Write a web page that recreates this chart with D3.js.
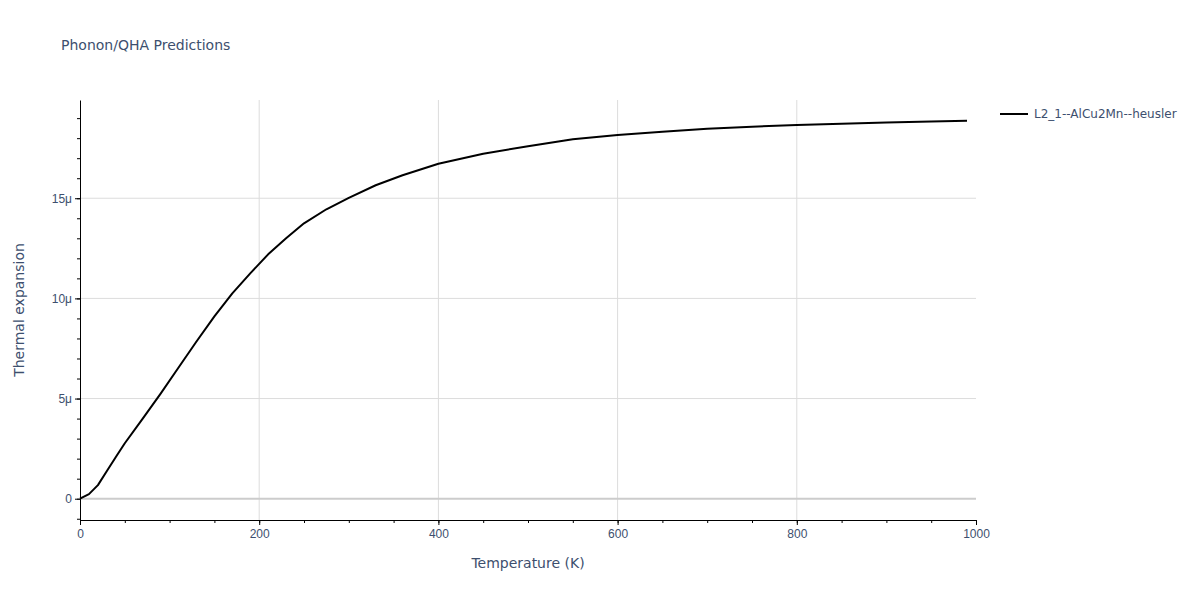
<!DOCTYPE html>
<html lang="en">
<head>
    <meta charset="UTF-8">
    <title>Phonon/QHA Predictions</title>
    <style>
        html, body { margin: 0; padding: 0; background: #fff; }
        svg { display: block; font-family: "DejaVu Sans", Verdana, sans-serif; }
        .grid line { stroke: #dcdcdc; stroke-width: 1px; }
        .tick text { fill: #3d4f6e; font-size: 12px; }
        .axis path, .axis line { stroke: #000; }
        .title, .axis-title, .legend text { fill: #3d4f6e; }
    </style>
</head>
<body>
<svg width="1200" height="600"></svg>

<script src="https://d3js.org/d3.v7.min.js"></script>
<script>
    // Thermal expansion (y values in units of 1e-6)
    const seriesName = "L2_1--AlCu2Mn--heusler";
    const temperature = [0, 10, 20, 30, 40, 50, 70, 90, 110, 130, 150, 170, 190, 210, 230, 250, 275, 300,
        330, 360, 400, 450, 500, 550, 600, 650, 700, 750, 800, 850, 900, 950, 990];
    const expansion = [0, 0.23, 0.68, 1.38, 2.08, 2.77, 4.0, 5.25, 6.55, 7.85, 9.1, 10.25, 11.25, 12.2, 13.0, 13.75, 14.45, 15.02,
        15.65, 16.15, 16.72, 17.22, 17.6, 17.95, 18.16, 18.32, 18.47, 18.57, 18.66, 18.72, 18.78, 18.83, 18.87];
    const xTicks = [0, 200, 400, 600, 800, 1000];
    const yTicks = [0, 5, 10, 15];

    const svg = d3.select("svg");
    const mLeft = 80, mRight = 976, mTop = 100, mBottom = 520;

    const x = d3.scaleLinear().domain([0, 1000]).range([mLeft, mRight]);
    const y = d3.scaleLinear().domain([-1.063, 19.905]).range([mBottom, mTop]);

    // grid
    const grid = svg.append("g").attr("class", "grid");
    grid.selectAll(".gx")
        .data(xTicks.filter(d => d > 0 && d < 1000))
        .enter().append("line")
        .attr("x1", d => x(d)).attr("x2", d => x(d))
        .attr("y1", mTop).attr("y2", mBottom);
    grid.selectAll(".gy")
        .data(yTicks.filter(d => d !== 0))
        .enter().append("line")
        .attr("x1", mLeft).attr("x2", mRight)
        .attr("y1", d => y(d)).attr("y2", d => y(d));
    // zero line
    svg.append("line")
        .attr("x1", mLeft).attr("x2", mRight)
        .attr("y1", y(0)).attr("y2", y(0))
        .attr("stroke", "#cccccc").attr("stroke-width", 2);

    // minor ticks
    svg.append("g").attr("class", "axis")
        .attr("transform", `translate(0,${mBottom})`)
        .call(d3.axisBottom(x).tickValues(d3.range(0, 1001, 50)).tickSize(3).tickFormat(""))
        .call(g => g.select(".domain").remove());
    svg.append("g").attr("class", "axis")
        .attr("transform", `translate(${mLeft},0)`)
        .call(d3.axisLeft(y).tickValues(d3.range(-1, 20, 1)).tickSize(3).tickFormat(""))
        .call(g => g.select(".domain").remove());

    // major axes
    svg.append("g").attr("class", "axis")
        .attr("transform", `translate(0,${mBottom})`)
        .call(d3.axisBottom(x).tickValues(xTicks).tickSize(5).tickPadding(4).tickSizeOuter(0)
            .tickFormat(d3.format("d")));
    svg.append("g").attr("class", "axis")
        .attr("transform", `translate(${mLeft},0)`)
        .call(d3.axisLeft(y).tickValues(yTicks).tickSize(5).tickPadding(3).tickSizeOuter(0)
            .tickFormat(d => d === 0 ? "0" : d + "μ"));

    // line
    const pts = temperature.map((t, i) => [t, expansion[i]]);
    svg.append("path")
        .datum(pts)
        .attr("fill", "none")
        .attr("stroke", "#000")
        .attr("stroke-width", 2)
        .attr("stroke-linejoin", "round")
        .attr("d", d3.line().x(d => x(d[0])).y(d => y(d[1])));

    // titles
    svg.append("text").attr("class", "title")
        .attr("x", 61).attr("y", 50)
        .style("font-size", "14px")
        .text("Phonon/QHA Predictions");
    svg.append("text").attr("class", "axis-title")
        .attr("x", (mLeft + mRight) / 2).attr("y", 568)
        .attr("text-anchor", "middle")
        .style("font-size", "14px")
        .text("Temperature (K)");
    svg.append("text").attr("class", "axis-title")
        .attr("transform", `translate(24,${(mTop + mBottom) / 2}) rotate(-90)`)
        .attr("text-anchor", "middle")
        .style("font-size", "14px")
        .text("Thermal expansion");

    // legend
    const legend = svg.append("g").attr("class", "legend").attr("transform", "translate(1000,114)");
    legend.append("line")
        .attr("x1", 0).attr("x2", 28)
        .attr("stroke", "#000").attr("stroke-width", 2);
    legend.append("text")
        .attr("x", 34).attr("y", 4)
        .style("font-size", "12px")
        .text(seriesName);
</script>
</body>
</html>
